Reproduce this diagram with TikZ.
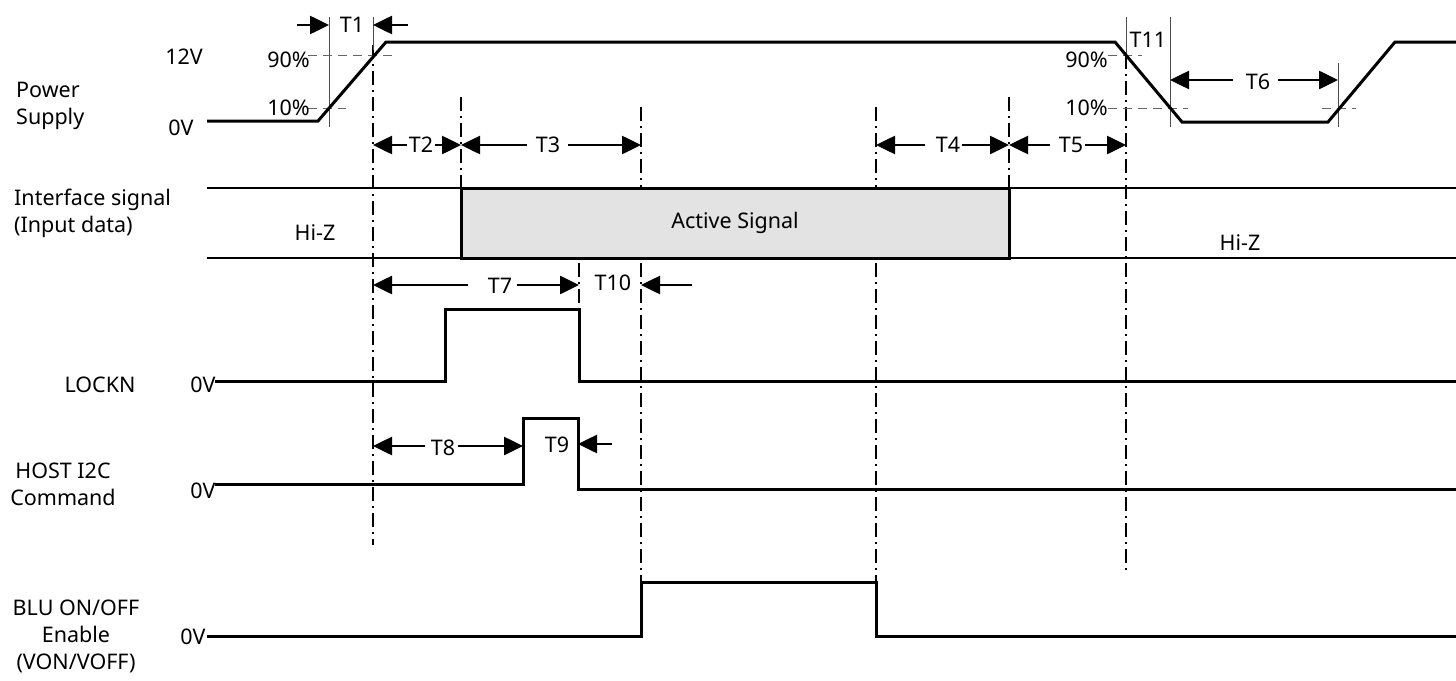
\documentclass[tikz,border=0pt]{standalone}
\usepackage{fontspec}
\setmainfont{Noto Sans}
\usetikzlibrary{arrows.meta}
\begin{document}
\begin{tikzpicture}[x=1pt,y=-1pt,
  sig/.style={line width=3pt, line join=miter},
  thinline/.style={line width=1.8pt},
  guide/.style={line width=1pt, black!70},
  pct/.style={line width=1pt, black!60, dash pattern=on 9pt off 6pt},
  dd/.style={line width=1.9pt, dash pattern=on 14pt off 5pt on 2pt off 5pt},
  dim/.style={line width=2.6pt, -{Triangle[length=19pt,width=18pt]}},
  lbl/.style={font=\fontsize{21.5}{27}\selectfont, inner sep=1pt},
  lblc/.style={lbl, align=center}
]
\useasboundingbox (0,0) rectangle (1456,680);

% ---------- labels ----------
\node[lbl, align=left, anchor=west] (psl) at (15,106) {Power\\Supply};
\node[lbl, align=left, anchor=west] (ifl) at (13,213) {Interface signal\\(Input data)};
\node[lbl] (lockl) at (100,385) {LOCKN};
\node[lblc] (hostl) at (63,484) {HOST I2C\\Command};
\node[lblc] (blul) at (76,636) {BLU ON/OFF\\Enable\\(VON/VOFF)};

\node[lbl] (v12) at (184,57) {12V};
\node[lbl] (v0a) at (181,128) {0V};
\node[lbl] (v0b) at (203,385) {0V};
\node[lbl] (v0c) at (203,491) {0V};
\node[lbl] (v0d) at (193,637) {0V};

% ---------- dash-dot vertical guides ----------
\draw[dd] (373,45) -- (373,545);
\draw[dd] (461,97) -- (461,188);
\draw[dd] (641,107) -- (641,582);
\draw[dd] (876,107) -- (876,582);
\draw[dd] (1009,97) -- (1009,188);
\draw[dd] (1126,55) -- (1126,570);
\draw[dd] (579,263) -- (579,309);

% thin solid guides
\draw[guide] (329,17) -- (329,127);
\draw[guide] (373,17) -- (373,50);
\draw[guide] (1126,17) -- (1126,55);
\draw[guide] (1170,17) -- (1170,127);
\draw[guide] (1338,63) -- (1338,127);

% percent lines
\draw[pct] (308,55) -- (392,55);
\draw[pct] (308,108) -- (346,108);
\draw[pct] (1108,55) -- (1142,55);
\draw[pct] (1108,108) -- (1188,108);
\draw[pct] (1322,108) -- (1356,108);
\node[lbl, anchor=east] (p90a) at (311,60) {90\%};
\node[lbl, anchor=east] (p10a) at (311,108) {10\%};
\node[lbl, anchor=east] (p90b) at (1109,60) {90\%};
\node[lbl, anchor=east] (p10b) at (1109,108) {10\%};

% ---------- power supply ----------
\draw[sig] (207,121) -- (318,121) -- (386,42) -- (1115,42) -- (1182,122) -- (1328,122) -- (1395,42) -- (1456,42);

% ---------- interface signal ----------
\draw[thinline] (207,188) -- (1456,188);
\draw[thinline] (207,258) -- (1456,258);
\draw[sig, fill=black!11] (461,188) rectangle (1009,258);
\node[lbl] (act) at (735,223) {Active Signal};
\node[lbl] (hiz1) at (315,233) {Hi-Z};
\node[lbl] (hiz2) at (1240,243) {Hi-Z};

% ---------- LOCKN ----------
\draw[sig] (215,381) -- (445,381) -- (445,309) -- (579,309) -- (579,381) -- (1456,381);

% ---------- HOST I2C ----------
\draw[sig] (215,484) -- (523,484) -- (523,418) -- (578,418) -- (578,489) -- (1456,489);

% ---------- BLU ----------
\draw[sig] (207,636) -- (641,636) -- (641,582) -- (876,582) -- (876,636) -- (1456,636);

% ---------- timing dimensions ----------
% T1
\node[lbl] (t1) at (352,25) {T1};
\draw[dim] (297,25) -- (329,25);
\draw[dim] (408,25) -- (373,25);
% T2
\node[lbl] (t2) at (421,145) {T2};
\draw[dim] (407,145) -- (373,145);
\draw[dim] (435,145) -- (461,145);
% T3
\node[lbl] (t3) at (548,145) {T3};
\draw[dim] (527,145) -- (461,145);
\draw[dim] (568,145) -- (641,145);
% T4
\node[lbl] (t4) at (948,145) {T4};
\draw[dim] (925,145) -- (876,145);
\draw[dim] (962,145) -- (1009,145);
% T5
\node[lbl] (t5) at (1071,145) {T5};
\draw[dim] (1050,145) -- (1009,145);
\draw[dim] (1085,145) -- (1126,145);
% T11
\node[lbl] (t11) at (1148,40) {T11};
% T6
\node[lbl] (t6) at (1258,82) {T6};
\draw[dim] (1233,80) -- (1170,80);
\draw[dim] (1278,80) -- (1338,80);
% T7
\node[lbl] (t7) at (500,286) {T7};
\draw[dim] (468,285) -- (373,285);
\draw[dim] (517,285) -- (579,285);
% T10
\node[lbl] (t10) at (613,283) {T10};
\draw[dim] (692,285) -- (641,285);
% T8
\node[lbl] (t8) at (443,448) {T8};
\draw[dim] (425,446) -- (373,446);
\draw[dim] (458,446) -- (523,446);
% T9
\node[lbl] (t9) at (557,445) {T9};
\draw[dim] (612,444) -- (578,444);
\end{tikzpicture}
\end{document}
